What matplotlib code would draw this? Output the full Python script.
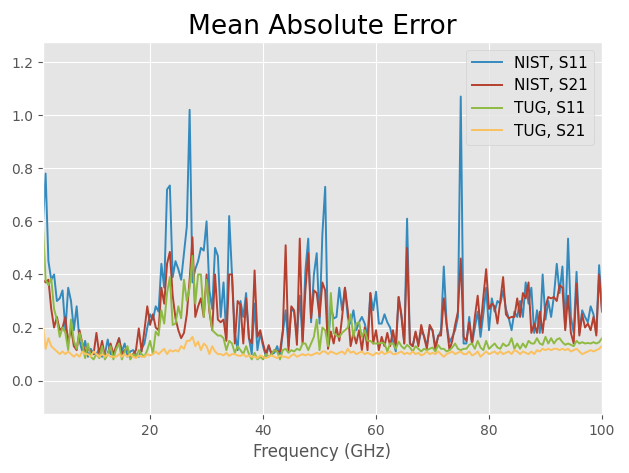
import numpy as np
import matplotlib
matplotlib.use("Agg")
import matplotlib.pyplot as plt

plt.style.use('ggplot')

# frequency sweep 1..100 GHz, 0.5 GHz step
freq = np.linspace(1, 100, 199)

nist_s11 = [
    0.58, 0.78, 0.45, 0.38, 0.40, 0.30, 0.31, 0.34, 0.19, 0.35, 0.30, 0.19, 0.28,
    0.15, 0.11, 0.15, 0.09, 0.12, 0.10, 0.10, 0.12, 0.09, 0.10, 0.155, 0.10, 0.10,
    0.12, 0.16, 0.11, 0.14, 0.09, 0.11, 0.115, 0.10, 0.09, 0.12, 0.14, 0.20,
    0.25, 0.23, 0.28, 0.26, 0.44, 0.35, 0.72, 0.735, 0.39, 0.45, 0.42, 0.38,
    0.48, 0.58, 1.02, 0.37, 0.42, 0.45, 0.50, 0.49, 0.60, 0.34, 0.27, 0.50, 0.47,
    0.24, 0.37, 0.16, 0.62, 0.40, 0.18, 0.115, 0.30, 0.24, 0.33, 0.16, 0.10,
    0.29, 0.115, 0.18, 0.13, 0.09, 0.13, 0.10, 0.105, 0.13, 0.09, 0.18, 0.265, 0.13,
    0.27, 0.26, 0.165, 0.32, 0.15, 0.415, 0.535, 0.22, 0.40, 0.48, 0.215, 0.55,
    0.73, 0.13, 0.28, 0.234, 0.24, 0.35, 0.265, 0.35, 0.24, 0.215, 0.265, 0.19, 0.22,
    0.24, 0.215, 0.165, 0.33, 0.265, 0.335, 0.215, 0.215, 0.25, 0.22, 0.20, 0.15,
    0.11, 0.315, 0.25, 0.14, 0.61, 0.14, 0.13, 0.18, 0.14, 0.185, 0.17, 0.13, 0.20,
    0.19, 0.13, 0.165, 0.19, 0.43, 0.215, 0.145, 0.165, 0.19, 0.24, 1.07, 0.14,
    0.14, 0.24, 0.14, 0.20, 0.26, 0.165, 0.25, 0.35, 0.19, 0.31, 0.26, 0.30,
    0.29, 0.34, 0.27, 0.235, 0.19, 0.26, 0.24, 0.30, 0.24, 0.37, 0.29, 0.35,
    0.18, 0.265, 0.18, 0.40, 0.23, 0.30, 0.24, 0.32, 0.44, 0.33, 0.43, 0.20, 0.535,
    0.24, 0.18, 0.41, 0.18, 0.265, 0.24, 0.22, 0.28, 0.25, 0.18, 0.435, 0.27,
]

nist_s21 = [
    0.38, 0.37, 0.38, 0.27, 0.20, 0.24, 0.19, 0.20, 0.24, 0.14, 0.20, 0.13, 0.115,
    0.19, 0.14, 0.11, 0.12, 0.11, 0.10, 0.18, 0.10, 0.15, 0.09, 0.10, 0.14, 0.10,
    0.13, 0.16, 0.10, 0.115, 0.12, 0.09, 0.10, 0.115, 0.197, 0.11, 0.19, 0.28,
    0.21, 0.25, 0.20, 0.19, 0.35, 0.29, 0.44, 0.485, 0.32, 0.235, 0.19, 0.16,
    0.18, 0.25, 0.38, 0.54, 0.24, 0.28, 0.31, 0.24, 0.40, 0.26, 0.19, 0.40, 0.23,
    0.22, 0.23, 0.15, 0.40, 0.40, 0.14, 0.30, 0.285, 0.14, 0.31, 0.16, 0.14,
    0.415, 0.165, 0.19, 0.14, 0.10, 0.134, 0.10, 0.115, 0.11, 0.11, 0.19, 0.51, 0.115,
    0.28, 0.265, 0.135, 0.535, 0.14, 0.34, 0.48, 0.235, 0.34, 0.33, 0.24, 0.37,
    0.34, 0.12, 0.185, 0.14, 0.20, 0.15, 0.24, 0.35, 0.265, 0.13, 0.18, 0.14, 0.19,
    0.115, 0.20, 0.115, 0.33, 0.14, 0.19, 0.115, 0.165, 0.13, 0.18, 0.13, 0.19,
    0.13, 0.315, 0.24, 0.14, 0.50, 0.14, 0.13, 0.185, 0.13, 0.21, 0.165, 0.12, 0.21,
    0.19, 0.115, 0.17, 0.17, 0.31, 0.21, 0.115, 0.15, 0.21, 0.26, 0.46, 0.165,
    0.15, 0.22, 0.14, 0.24, 0.32, 0.20, 0.315, 0.42, 0.27, 0.29, 0.28, 0.215,
    0.30, 0.39, 0.25, 0.235, 0.24, 0.24, 0.31, 0.24, 0.33, 0.31, 0.37, 0.18,
    0.215, 0.18, 0.26, 0.18, 0.28, 0.315, 0.31, 0.315, 0.30, 0.36, 0.35, 0.19, 0.32,
    0.18, 0.14, 0.365, 0.17, 0.25, 0.20, 0.215, 0.19, 0.24, 0.17, 0.40, 0.26,
]

tug_s11 = [
    0.60, 0.38, 0.36, 0.385, 0.27, 0.23, 0.165, 0.20, 0.18, 0.115, 0.23, 0.15, 0.12,
    0.18, 0.14, 0.085, 0.14, 0.09, 0.08, 0.10, 0.085, 0.13, 0.08, 0.10, 0.13, 0.08,
    0.12, 0.14, 0.08, 0.11, 0.13, 0.08, 0.10, 0.09, 0.115, 0.10, 0.09, 0.115,
    0.15, 0.10, 0.185, 0.17, 0.265, 0.215, 0.33, 0.39, 0.21, 0.215, 0.28, 0.235,
    0.38, 0.30, 0.35, 0.47, 0.29, 0.40, 0.40, 0.24, 0.38, 0.27, 0.19, 0.18, 0.17,
    0.17, 0.16, 0.115, 0.15, 0.14, 0.105, 0.13, 0.115, 0.10, 0.13, 0.10, 0.08,
    0.105, 0.08, 0.09, 0.08, 0.10, 0.09, 0.10, 0.115, 0.11, 0.08, 0.115, 0.12, 0.105,
    0.115, 0.11, 0.12, 0.115, 0.14, 0.14, 0.115, 0.14, 0.165, 0.23, 0.115, 0.20,
    0.19, 0.13, 0.33, 0.18, 0.17, 0.165, 0.18, 0.19, 0.20, 0.25, 0.165, 0.215, 0.22,
    0.165, 0.19, 0.15, 0.15, 0.14, 0.14, 0.14, 0.143, 0.14, 0.11, 0.14, 0.14,
    0.12, 0.147, 0.13, 0.12, 0.135, 0.125, 0.11, 0.13, 0.12, 0.11, 0.12, 0.115, 0.12,
    0.125, 0.11, 0.134, 0.12, 0.12, 0.11, 0.115, 0.125, 0.14, 0.12, 0.115, 0.12,
    0.12, 0.135, 0.14, 0.12, 0.15, 0.125, 0.115, 0.15, 0.12, 0.13, 0.14, 0.125,
    0.12, 0.14, 0.13, 0.135, 0.16, 0.12, 0.14, 0.12, 0.14, 0.125, 0.15, 0.14,
    0.14, 0.16, 0.14, 0.135, 0.165, 0.14, 0.16, 0.14, 0.155, 0.16, 0.145, 0.135, 0.14,
    0.135, 0.13, 0.15, 0.14, 0.145, 0.14, 0.142, 0.14, 0.145, 0.14, 0.145, 0.16,
]

tug_s21 = [
    0.22, 0.12, 0.16, 0.13, 0.12, 0.11, 0.10, 0.11, 0.10, 0.11, 0.10, 0.09, 0.10,
    0.09, 0.11, 0.10, 0.10, 0.09, 0.11, 0.10, 0.09, 0.10, 0.09, 0.10, 0.09, 0.09,
    0.09, 0.10, 0.09, 0.10, 0.09, 0.10, 0.09, 0.085, 0.095, 0.09, 0.09, 0.10,
    0.095, 0.10, 0.11, 0.10, 0.11, 0.12, 0.10, 0.115, 0.11, 0.115, 0.11, 0.13,
    0.12, 0.15, 0.15, 0.165, 0.13, 0.147, 0.115, 0.14, 0.13, 0.10, 0.13, 0.11, 0.10,
    0.10, 0.095, 0.105, 0.093, 0.10, 0.10, 0.095, 0.093, 0.10, 0.09, 0.095, 0.09,
    0.09, 0.085, 0.095, 0.09, 0.085, 0.09, 0.095, 0.09, 0.085, 0.095, 0.09, 0.09, 0.085,
    0.095, 0.10, 0.09, 0.095, 0.10, 0.095, 0.10, 0.095, 0.10, 0.105, 0.10, 0.11,
    0.11, 0.10, 0.11, 0.105, 0.10, 0.105, 0.11, 0.10, 0.12, 0.105, 0.11, 0.10, 0.105,
    0.11, 0.10, 0.105, 0.10, 0.095, 0.105, 0.10, 0.11, 0.10, 0.105, 0.11, 0.10,
    0.10, 0.105, 0.11, 0.10, 0.105, 0.10, 0.11, 0.10, 0.105, 0.095, 0.10, 0.11, 0.10,
    0.105, 0.10, 0.11, 0.10, 0.09, 0.10, 0.105, 0.11, 0.10, 0.105, 0.11, 0.10,
    0.10, 0.11, 0.095, 0.10, 0.11, 0.09, 0.10, 0.11, 0.10, 0.105, 0.11, 0.10,
    0.11, 0.10, 0.105, 0.11, 0.10, 0.115, 0.11, 0.10, 0.11, 0.105, 0.10, 0.11,
    0.10, 0.115, 0.11, 0.12, 0.115, 0.12, 0.115, 0.12, 0.12, 0.115, 0.12, 0.115, 0.12,
    0.11, 0.115, 0.12, 0.11, 0.10, 0.105, 0.11, 0.115, 0.11, 0.115, 0.12, 0.13,
]

series = [
    ("NIST, S11", nist_s11, "#348ABD"),
    ("NIST, S21", nist_s21, "#B5402F"),
    ("TUG, S11", tug_s11, "#8EBA42"),
    ("TUG, S21", tug_s21, "#FBC15E"),
]

fig, ax = plt.subplots(figsize=(6.29, 4.73), dpi=100)
for name, vals, col in series:
    ax.plot(freq, vals, color=col, label=name, linewidth=1.4)

ax.set_xlim(1, 100)
ax.set_ylim(-0.125, 1.275)
ax.set_yticks([0.0, 0.2, 0.4, 0.6, 0.8, 1.0, 1.2])
ax.set_xticks([20, 40, 60, 80, 100])
ax.set_title("Mean Absolute Error", fontsize=19)
ax.set_xlabel("Frequency (GHz)")
ax.legend(loc="upper right", fontsize=11)

fig.subplots_adjust(left=0.068, right=0.957, top=0.911, bottom=0.125)
fig.savefig("out.png")
